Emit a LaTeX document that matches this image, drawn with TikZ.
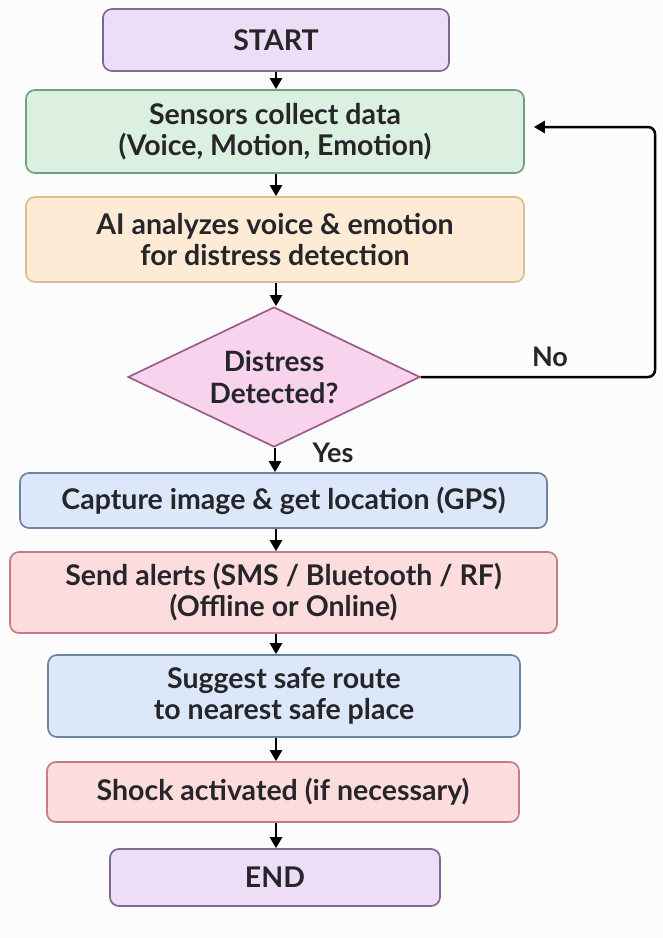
\documentclass[tikz,border=0pt]{standalone}
\usepackage{fontspec}
\setmainfont{Lato}
\usetikzlibrary{arrows.meta,shapes.geometric}
\definecolor{bg}{HTML}{FCFCFD}
\definecolor{txt}{HTML}{26262A}
\definecolor{purF}{HTML}{EDDDF6}\definecolor{purD}{HTML}{7E6890}
\definecolor{grnF}{HTML}{DCF0E1}\definecolor{grnD}{HTML}{70A082}
\definecolor{orgF}{HTML}{FDEBD6}\definecolor{orgD}{HTML}{E0BC90}
\definecolor{pnkF}{HTML}{F7D3EE}\definecolor{pnkD}{HTML}{9A5C8C}
\definecolor{bluF}{HTML}{DCE8F9}\definecolor{bluD}{HTML}{6C84A2}
\definecolor{redF}{HTML}{FCDCDC}\definecolor{redD}{HTML}{C27E80}
\tikzset{
  box/.style={rectangle, rounded corners=9pt, line width=1.7pt, align=center,
    inner sep=0pt, text=txt, font=\fontsize{28.5}{31}\selectfont\bfseries},
  dec/.style={diamond, line width=1.7pt, align=center, inner sep=0pt,
    aspect=2.086, minimum width=292pt, minimum height=140pt, text=txt,
    font=\fontsize{28}{32}\selectfont\bfseries, draw=pnkD, fill=pnkF},
  lbl/.style={text=txt, font=\fontsize{27}{31}\selectfont\bfseries, inner sep=0pt},
  arr/.style={line width=2.5pt, draw=black, -{Triangle[width=12pt,length=11pt]}}
}
\begin{document}
\begin{tikzpicture}[x=1pt,y=-1pt]
\fill[bg] (0,0) rectangle (663,938);
\useasboundingbox (0,0) rectangle (663,938);
\node[box, draw=purD, fill=purF, minimum width=346pt, minimum height=62pt] (start) at (276,40) {START};
\node[box, draw=grnD, fill=grnF, minimum width=498pt, minimum height=83pt] (sens) at (275,131.5) {Sensors collect data\\(Voice, Motion, Emotion)};
\node[box, draw=orgD, fill=orgF, minimum width=498pt, minimum height=85pt] (ai) at (275,239.5) {AI analyzes voice \& emotion\\for distress detection};
\node[dec] (dd) at (274,377) {Distress\\Detected?};
\node[box, draw=bluD, fill=bluF, minimum width=527pt, minimum height=55pt] (cap) at (283.5,500.5) {Capture image \& get location (GPS)};
\node[box, draw=redD, fill=redF, minimum width=547pt, minimum height=81pt] (send) at (283.5,592.5) {Send alerts (SMS / Bluetooth / RF)\\(Offline or Online)};
\node[box, draw=bluD, fill=bluF, minimum width=472pt, minimum height=82pt] (sugg) at (284,696) {Suggest safe route\\to nearest safe place};
\node[box, draw=redD, fill=redF, minimum width=472pt, minimum height=60pt] (shock) at (283,792) {Shock activated (if necessary)};
\node[box, draw=purD, fill=purF, minimum width=330pt, minimum height=57pt] (end) at (275,877.5) {END};
\node[lbl] (no) at (550,357) {No};
\node[lbl] (yes) at (333,453) {Yes};
\draw[arr] (start.south) -- (start.south |- sens.north);
\draw[arr] ([xshift=1pt]sens.south) -- ([xshift=1pt]sens.south |- ai.north);
\draw[arr] ([xshift=1pt]ai.south) -- ([xshift=1pt]ai.south |- dd.north);
\draw[arr] ([xshift=1pt]dd.south) -- ([xshift=1pt]dd.south |- cap.north);
\draw[arr] ([xshift=-7.5pt]cap.south) -- ([xshift=-7.5pt]cap.south |- send.north);
\draw[arr] ([xshift=-7.5pt]send.south) -- ([xshift=-7.5pt]send.south |- sugg.north);
\draw[arr] ([xshift=-8pt]sugg.south) -- ([xshift=-8pt]sugg.south |- shock.north);
\draw[arr] ([xshift=-7pt]shock.south) -- ([xshift=-7pt]shock.south |- end.north);
\coordinate (fb) at (655,127);
\draw[arr, rounded corners=7pt] (dd.east) -| (fb) -- ([xshift=9pt]sens.east |- fb);
\end{tikzpicture}
\end{document}
